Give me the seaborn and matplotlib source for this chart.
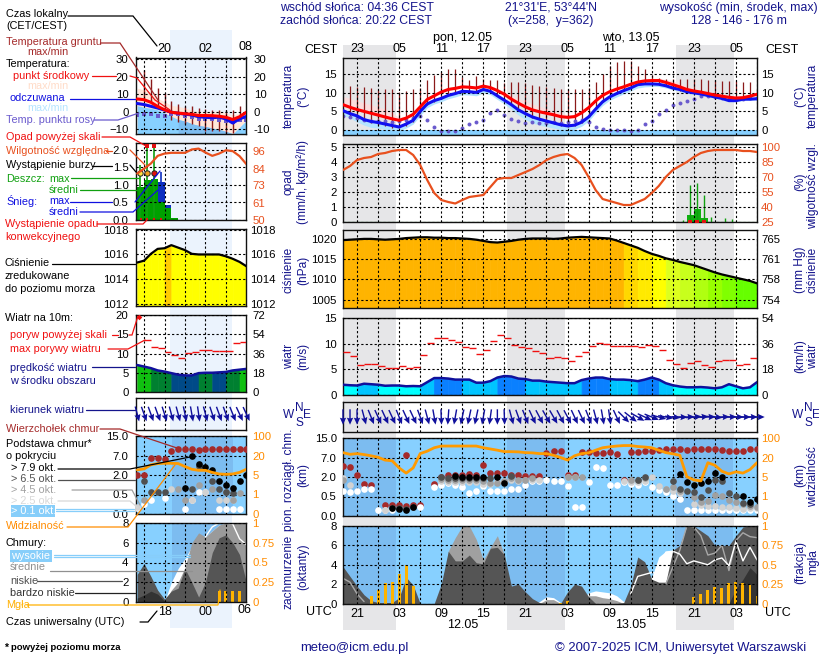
import numpy as np
import matplotlib
matplotlib.use('Agg')
import matplotlib.pyplot as plt
import seaborn as sns

W, H = 820, 660
NAVY = '#14148c'
ORANGE = '#ff8c00'
HUMID = '#e8501e'
SKY = '#87d0ff'
SKY_NIGHT = '#7cbcf0'

# ---------- main meteogram: one value per hour, hour 0 = 21 CEST ----------
hours = np.arange(60)
temp_mid = [6.8, 6.1, 5.5, 5.0, 4.5, 4.0, 3.5, 3.0, 2.6, 3.2, 4.2, 6.2, 8.2, 9.2, 10.2, 10.9, 11.2, 11.6, 11.5, 11.3,
            11.8, 11.4, 10.6, 9.6, 8.3, 7.2, 6.2, 5.4, 4.9, 4.5, 4.1, 3.6, 3.4, 3.6, 4.6, 6.0, 7.8, 9.3, 10.3, 11.0,
            11.6, 12.3, 12.9, 13.2, 13.3, 13.3, 12.8, 12.2, 11.6, 10.9, 10.5, 10.2, 9.8, 9.4, 9.1, 8.8, 8.6, 8.7, 9.1, 9.6]
temp_max = [9.0, 8.5, 7.9, 7.3, 6.8, 6.2, 5.6, 4.6, 3.4, 3.7, 4.7, 6.8, 8.7, 9.7, 10.7, 11.4, 11.7, 12.1, 12.0, 11.8,
            12.3, 11.9, 11.2, 10.3, 9.3, 8.5, 7.8, 7.0, 6.4, 5.8, 5.2, 4.6, 4.1, 4.2, 5.1, 6.5, 8.3, 9.8, 10.8, 11.5,
            12.1, 12.8, 13.4, 13.7, 13.9, 13.9, 13.6, 13.2, 12.5, 11.8, 11.2, 10.7, 10.2, 9.8, 9.4, 9.1, 8.9, 9.0, 9.4, 9.9]
temp_feel = [5.2, 4.4, 3.8, 2.8, 2.3, 2.0, 1.6, 1.2, 0.8, 1.6, 2.6, 5.0, 7.0, 7.9, 8.5, 9.3, 9.8, 10.4, 10.3, 10.1,
             10.9, 10.4, 9.2, 8.0, 6.8, 5.4, 4.4, 3.5, 2.9, 2.4, 1.9, 1.4, 1.1, 1.3, 2.1, 3.5, 5.6, 7.6, 8.9, 9.8,
             10.6, 11.3, 12.2, 12.4, 12.4, 12.3, 11.9, 11.3, 10.9, 10.3, 10.0, 9.7, 9.3, 8.9, 8.5, 7.9, 7.9, 8.3, 8.3, 8.4]
temp_feel_min = [4.0, 3.2, 2.2, 1.3, 0.7, 0.5, 0.2, -0.1, -0.2, 0.5, 1.6, 3.8, 6.0, 7.0, 7.6, 8.4, 8.9, 9.5, 9.4, 9.2,
                 10.0, 9.5, 8.2, 7.0, 5.6, 4.0, 2.8, 1.9, 1.3, 0.9, 0.5, 0.1, -0.1, 0.2, 1.0, 2.4, 4.6, 6.6, 8.0, 8.9,
                 9.7, 10.5, 11.3, 11.6, 11.7, 11.7, 11.3, 10.8, 10.4, 9.9, 9.6, 9.3, 8.9, 8.5, 8.1, 7.6, 7.6, 7.9, 8.0, 8.1]
dew = [3.7, 3.6, 3.2, 2.8, 2.5, 2.4, 2.4, 2.2, 2.3, 2.6, 3.3, 3.7, 2.8, 0.8, -0.2, -0.2, -0.2, 0.6, 1.6, 2.2,
       2.7, 4.7, 5.5, 3.9, 2.9, 2.4, 2.0, 2.1, 2.0, 1.9, 2.1, 2.0, 2.2, 2.3, 2.6, 2.1, 0.8, 0.2, 0.0, -0.1,
       -0.1, -0.2, 0.0, 1.7, 2.5, 4.4, 5.3, 6.6, 7.3, 7.9, 8.4, 9.1, 9.2, 8.9, 8.6, 8.4, 8.4, 8.4, 8.5, 8.6]
ground_max = [9.0, 11.9, 11.6, 11.6, 11.4, 10.8, 11.0, 10.9, 10.3, 10.5, 10.9, 11.2, 13.5, 14.8, 15.7, 16.3, 16.3, 14.3, 13.5, 14.4,
              13.7, 13.5, 13.5, 12.6, 12.8, 12.8, 12.6, 12.2, 11.8, 11.5, 11.2, 11.0, 10.9, 10.9, 10.9, 11.2, 13.0, 15.0, 17.1, 18.2,
              18.6, 18.6, 17.2, 16.4, 14.8, 14.1, 13.8, 13.6, 13.8, 13.8, 13.8, 13.7, 13.5, 13.5, 13.3, 13.3, 13.3, 13.0, 13.0, 11.0]
ground_min = [4.0, 3.8, 3.0, 2.4, 1.8, 1.4, 1.0, 0.6, 0.4, 1.0, 2.2, 4.6, 6.6, 7.6, 8.4, 9.4, 10.0, 10.4, 10.2, 10.2,
              10.8, 10.2, 9.2, 8.0, 6.8, 5.4, 4.2, 3.2, 2.6, 2.2, 1.6, 1.2, 0.9, 1.2, 2.0, 3.4, 5.6, 7.6, 8.8, 9.8,
              10.6, 11.4, 12.2, 12.6, 12.6, 12.2, 11.9, 11.0, 10.6, 10.0, 9.8, 9.5, 9.2, 8.8, 8.4, 8.0, 7.9, 8.2, 8.4, 8.6]

humidity = [77, 81, 87, 89, 90, 93, 94, 96, 97, 97, 92, 82, 67, 54, 47, 45, 43.5, 47, 50, 51,
            52, 60, 68, 69, 69, 72, 75, 78, 82, 87, 90, 92, 93, 89, 82, 70, 57, 48, 46, 44,
            42, 42, 45, 48, 54, 61, 70, 77, 81, 85, 90, 94, 96, 97, 97, 97, 97, 96, 96, 95]
rain_hours = [49.5, 50.5, 51.5]
rain_mean = [0.45, 0.85, 0.25]
rain_max_hours = [48.5, 49.5, 50.5, 51.5, 52.5, 54.5, 55.5]
rain_max = [0.15, 2.5, 2.6, 1.8, 0.35, 0.25, 0.2]
conv_hours = [49.5, 50.5, 51.5]

pressure = [1019.7, 1019.8, 1019.9, 1020.0, 1020.0, 1019.9, 1019.8, 1019.9, 1020.0, 1020.2, 1020.3, 1020.4, 1020.4, 1020.3, 1020.3, 1020.2, 1020.2, 1020.1, 1020.0, 1019.8,
            1019.5, 1019.2, 1019.1, 1019.3, 1019.5, 1019.8, 1020.0, 1020.1, 1020.1, 1020.1, 1020.0, 1020.1, 1020.3, 1020.4, 1020.5, 1020.4, 1020.3, 1020.2, 1020.1, 1019.6,
            1019.0, 1018.4, 1017.8, 1017.0, 1016.3, 1015.8, 1015.2, 1014.8, 1014.3, 1013.9, 1013.5, 1012.9, 1012.3, 1011.7, 1011.2, 1010.8, 1010.4, 1010.0, 1009.6, 1009.0]
pressure_colors = ['#ffb400'] * 40 + ['#ffd800'] * 2 + ['#ffea00'] * 2 + ['#ffff00'] * 2 + ['#ddff1e'] * 2 + ['#c8ff1c'] * 2 + \
                  ['#b0ff10'] * 2 + ['#98ff00'] * 2 + ['#80ff00'] * 2 + ['#66ff00'] * 3

wind = [2.0, 1.9, 1.85, 2.2, 2.1, 2.0, 1.8, 1.85, 1.85, 1.7, 1.75, 1.7, 2.5, 3.3, 3.3, 3.2, 3.0, 3.0, 3.0, 2.4,
        2.4, 2.7, 3.4, 3.7, 3.6, 3.2, 3.1, 2.8, 2.8, 2.6, 2.5, 2.4, 2.3, 2.3, 2.9, 3.2, 3.4, 3.4, 3.1, 3.0,
        3.0, 2.9, 2.7, 3.0, 3.4, 3.0, 2.3, 1.9, 1.65, 1.5, 1.5, 1.55, 1.45, 1.3, 1.5, 2.1, 1.7, 1.3, 1.5, 2.5]
gust = [8.4, 7.6, 5.85, 6.05, 6.05, 5.65, 5.25, 5.25, 5.6, 5.25, 5.45, 7.8, 10.2, 11.2, 11.2, 10.8, 10.4, 9.4, 9.2, 8.0,
        8.8, 10.6, 11.6, 11.2, 9.8, 9.4, 9.2, 8.6, 8.2, 7.2, 7.4, 7.2, 6.65, 7.6, 8.4, 9.6, 10.2, 10.0, 9.6, 9.6,
        9.6, 9.6, 9.4, 9.8, 9.6, 8.8, 6.85, 6.05, 5.25, 6.25, 6.65, 5.85, 5.45, 6.65, 6.85, 6.85, 5.85, 6.05, 7.2, 7.2]
CY, BL, DK = '#00ffff', '#00c4ff', '#0a80ff'
wind_colors = [CY] * 2 + [BL] * 3 + [CY] * 6 + [BL] * 2 + [DK] * 4 + [BL] * 5 + [DK] * 4 + [BL] * 8 + [DK] * 4 + [BL] * 4 + [DK] * 3 + [BL] * 2 + [CY] * 13
wind_dir = [180, 180, 180, 165, 158, 155, 155, 155, 158, 155, 155, 160, 165, 170, 178, 184, 190, 192, 192, 192,
            190, 188, 180, 178, 165, 160, 158, 155, 152, 150, 150, 152, 152, 155, 155, 158, 165, 170, 172, 155,
            135, 128, 120, 115, 112, 105, 100, 96, 92, 88, 85, 85, 88, 95, 88, 88, 90, 90, 90, 90]

# cloud tops and bases, km, by cover class
top_h = [0, 1, 2, 3, 4, 6, 7, 8, 9, 9, 10, 11, 13, 14, 15, 16, 17, 18, 19, 20, 21, 22, 23, 24, 25, 26, 27, 28, 29, 30, 31, 32, 33,
         34, 35, 36, 37, 38, 39, 40, 41, 42, 43, 44, 45, 46, 47, 48, 49, 50, 51, 52, 53, 54, 55, 56, 57, 58, 59]
top_km = [4.8, 4.45, 2.44, 1.45, 1.35, 0.27, 0.27, 0.27, 0.26, 8.1, 0.28, 0.28, 1.45, 2.0, 2.44, 2.6, 2.6, 2.8, 2.6, 5.07, 3.05, 3.05, 3.05, 2.6, 2.44, 2.3, 2.26, 2.26, 9.0, 9.5, 9.5, 2.44, 2.44,
          9.3, 9.3, 9.0, 9.0, 9.1, 8.5, 1.8, 9.1, 9.1, 9.5, 9.5, 10.0, 10.3, 10.5, 10.3, 10.0, 10.3, 10.3, 10.3, 10.3, 10.0, 9.8, 9.8, 9.5, 10.3, 10.3]
white_h = [0, 1, 2, 3, 4, 5, 6, 7, 11, 13, 14, 15, 16, 17, 18, 19, 20, 21, 22, 23, 24, 25, 26, 27, 28, 29, 30, 31, 32, 33, 34, 35, 36, 37,
           38, 39, 40, 41, 42, 43, 44, 45, 46, 47, 48, 49, 50, 51, 52, 53, 54, 55, 56, 57, 58, 59]
white_km = [0.89, 0.81, 0.89, 1.07, 1.07, 0.155, 0.155, 0.155, 0.22, 1.2, 1.4, 1.53, 1.4, 1.2, 0.76, 0.94, 1.28, 0.94, 0.89, 0.94, 1.07, 1.07, 1.4, 1.66, 1.66, 1.8, 1.66, 1.66, 1.28, 0.22, 0.22, 1.59, 4.6, 4.3,
            1.4, 1.4, 1.59, 1.46, 1.4, 1.59, 1.2, 0.97, 0.81, 0.55, 0.44, 0.155, 0.155, 0.155, 0.155, 0.155, 0.155, 0.155, 0.155, 0.155, 0.155, 0.155]
light_h = [0, 1, 6, 14, 15, 16, 17, 18, 19, 20, 21, 22, 23, 24, 25, 26, 27, 28, 32, 33, 40, 41, 42, 43, 44, 45, 46, 47, 48, 50, 51, 52, 53, 54, 55, 56, 57, 58, 59]
light_km = [1.9, 1.4, 0.16, 1.7, 1.6, 1.6, 1.6, 1.6, 1.6, 1.5, 1.5, 1.6, 1.7, 1.8, 1.7, 1.8, 1.8, 1.8, 2.0, 2.0, 1.7, 1.6, 1.6, 1.7, 1.97, 1.28, 1.1, 0.9, 0.8, 0.3, 0.28, 0.26, 0.26, 0.24, 0.22, 0.2, 0.18, 0.2, 0.2]
gray_h = [0, 7, 14, 15, 16, 17, 18, 19, 20, 21, 22, 23, 24, 25, 26, 27, 32, 33, 34, 41, 42, 43, 46, 47, 48, 50, 51, 52, 53, 54, 55, 56, 57, 58, 59]
gray_km = [1.8, 0.2, 1.85, 1.8, 1.8, 1.8, 1.8, 1.8, 1.7, 1.55, 1.55, 1.7, 1.9, 1.8, 1.8, 1.9, 2.0, 1.97, 1.97, 1.8, 1.8, 1.9, 1.1, 1.2, 0.9, 0.5, 0.35, 0.38, 0.58, 0.55, 0.4, 0.36, 0.3, 0.25, 0.22]
dark_h = [8, 9, 10, 14, 15, 16, 17, 18, 19, 20, 21, 24, 42, 43, 47, 48, 49, 50, 51, 52, 53, 54, 55, 56, 57, 58]
dark_km = [0.2, 0.18, 0.22, 2.0, 1.9, 1.95, 1.95, 1.95, 1.95, 1.9, 1.9, 2.3, 1.8, 1.97, 1.66, 1.1, 0.89, 0.84, 0.5, 0.97, 1.8, 1.66, 0.75, 0.55, 0.33, 0.3]
black_h = [7, 8, 9, 10, 16, 17, 18, 19, 20, 22, 23, 48, 49, 50, 51, 52, 53, 54, 57, 58, 59]
black_km = [0.2, 0.18, 0.16, 0.24, 2.26, 2.0, 2.0, 2.0, 2.0, 2.0, 1.55, 2.8, 1.59, 1.4, 1.53, 1.7, 3.05, 2.0, 0.52, 0.36, 0.44]
visibility = [40, 33, 36, 32, 27, 21, 18, 17.5, 12, 8, 12, 36, 46, 60, 67, 67, 67, 67, 67, 67,
              60, 55, 50, 44, 44, 43, 40, 39, 36, 36, 29, 20, 18, 27, 36, 39, 50, 60, 64, 67,
              69, 69, 65, 63, 60, 50, 40, 35, 29, 5.2, 4.4, 4.2, 16, 14, 9.4, 7.4, 9, 8, 10.7, 16]

cloud_low = [3.8, 2.8, 1.8, 0.9, 0.3, 0.1, 0.1, 0.1, 0.6, 2.7, 1.9, 0, 0, 0, 2, 5.4, 4.4, 4.4, 5, 4.2,
             4.1, 5.7, 5.8, 5, 1.8, 2, 1.2, 0.5, 0.1, 0, 0, 0, 1.2, 2, 1.8, 0.7, 0, 0, 0, 0,
             0.1, 1.8, 4.8, 4.3, 2.5, 2.2, 2.2, 5.5, 6, 8, 8, 7.5, 7, 6, 6, 6, 7, 7.9, 8, 8]
cloud_mid = [0, 0, 0, 0, 0, 0, 0, 0, 0, 0, 0, 0, 0, 0, 0, 5.4, 6.8, 8, 8, 6.6,
             4.5, 5.8, 7, 5, 0, 0, 0, 0, 0, 0.4, 0.4, 0, 0, 0, 0, 0.8, 0.8, 0.6, 0.5, 0.3,
             0, 0, 0, 0, 0, 0, 0, 0, 0, 0, 0, 0, 0, 0, 0, 0, 0, 0, 0, 0]
cloud_high = [0, 0, 0, 0, 0, 0, 0, 0, 0, 0, 0, 0, 0, 0, 0, 0, 0, 0, 0, 0,
              0, 0, 0, 0, 0, 0, 0, 0, 0.2, 0.7, 0.6, 0.1, 0, 0, 0.3, 1.1, 1.3, 1.2, 1.1, 0.8,
              0.2, 1, 2.2, 3, 2.7, 4.8, 5.4, 5.5, 5.5, 0, 0, 0, 0, 0, 0, 0, 0, 0, 0, 0]
cloud_vlow = [0, 0, 0, 0, 0, 0, 0, 0, 0, 0, 0, 0, 0, 0, 0, 0, 0, 0, 0, 0,
              0, 0, 0, 0, 0, 0, 0, 0, 0, 0, 0, 0, 0, 0, 0, 0, 0, 0, 0, 0,
              0, 0, 0, 0, 0, 0, 0, 0, 0, 0, 0, 0, 0, 0, 0, 0, 1.5, 2.5, 3.7, 3]
line_high_h = [41, 42, 44, 45, 46, 47, 48, 49, 50, 51, 52, 53, 54, 55, 56, 57, 58, 59]
line_high = [1, 2.8, 3.2, 3.1, 5.3, 5.4, 5.1, 4.1, 4.4, 4.2, 4, 4.5, 4.7, 3.9, 6.4, 4.4, 5.8, 4.5]
line_mid_early_h = [0, 1, 2, 3]
line_mid_early = [2.6, 2.2, 1, 0.2]
line_mid_h = [46, 48, 49, 50, 51, 52, 53, 54, 55, 56, 57, 58, 59]
line_mid = [2, 5.5, 8, 7.9, 7, 5, 5.2, 6, 3.4, 6.5, 7.3, 6.9, 6.8]
fog_h = [4, 5, 6, 7, 8, 9, 10, 31, 32, 50, 51, 52, 53, 54, 55, 56, 57, 58, 59]
fog = [0.1, 0.18, 0.26, 0.28, 0.38, 0.5, 0.23, 0.01, 0.03, 0.09, 0.12, 0.17, 0.21, 0.2, 0.26, 0.28, 0.26, 0.24, 0.1]

# ---------- legend meteogram: local hours 16..32 ----------
leg_hours = np.arange(16, 33)
leg_mid = [7.2, 6.8, 5.3, 2.9, 1.0, -0.4, -0.9, -1.3, -1.6, -2.3, -2.3, -2.4, -2.7, -3.3, -4.6, -3.0, -0.4]
leg_max = [13.4, 12.5, 10.5, 7.5, 5.7, 3.5, 3, 2, 0.8, 0, -0.5, 0, 0.5, -1, -1.8, -1, 0.5]
leg_feel = [4.6, 4, 3, 2, 0.8, -0.4, -1, -1.5, -2, -3, -3.3, -3.6, -3.2, -4.3, -6.6, -4.2, -2.8]
leg_feel_top = [3.4, 2.5, 1.9, 1, -0.8, -2.7, -4.6, -5.5, -7, -8, -8.6, -9.5, -10.3, -11.4, -12.8, -9, -5]
leg_dew = [-1.9, -1.3, -1.5, -2.5, -2.7, -1.7, -1.3, -2.7, -3.2, -4.2, -4.2, -4.2, -5.1, -5.7, -6.1, -4.6, -4.6]
leg_ground_h = np.arange(17, 32)
leg_ground_max = [24, 18.7, 13.5, 10.5, 6.3, 4.4, 3.4, 3, 1.9, 1.5, 1, 1, 0.6, 0.6, 2.9]
leg_ground_min = [8, 5.3, 3.4, 0.6, -5.1, -6.1, -7, -7, -8.4, -11, -11, -11, -12.9, -12.2, -5.1]
leg_humidity = [80.8, 84, 87.4, 92.5, 94, 94.5, 94.5, 94.5, 96.7, 97.3, 94.7, 92.5, 94, 96.2, 95.6, 92.3, 87]
leg_rain_h = [16.5, 17.5, 18.5, 19.5, 20.5, 21.5]
leg_rain = [0.95, 1.15, 1.18, 0.52, 0.34, 0.07]
leg_snow_h = [19.5, 20.5]
leg_snow = [0.56, 0.09]
leg_rainmax_h = [16.45, 17.45, 18.45]
leg_rainmax = [1.57, 2.1, 2.1]
leg_snowmax_h = [19.45]
leg_snowmax = [1.38]
leg_storm_colors = ['#ffe040', '#f0a020', '#e01010']
leg_pressure = [1015.35, 1015.5, 1016.05, 1016.45, 1016.5, 1016.75, 1016.55, 1016.35, 1016.05, 1016, 1016, 1016, 1016, 1015.85, 1015.65, 1015.4, 1015.05]
leg_wind = [7, 6.6, 6.2, 5.6, 5.3, 4.9, 4.5, 4.3, 4.3, 4.9, 5.0, 5.0, 5.1, 5.2, 5.6, 5.8, 6.0]
leg_gust = [np.nan, 13.4, 11.6, 11.4, 10.5, 9.7, 8.8, 10.1, 10.5, 10.8, 10.8, 10.6, 10.6, 10.7, 12.8, 13, 13]
leg_wind_colors = ['#10c010'] * 2 + ['#008030'] * 3 + ['#004a88'] * 4 + ['#008030'] * 2 + ['#004a88'] * 2 + ['#008030'] * 2 + ['#10c010'] * 1
leg_dir = [165, 160, 160, 160, 162, 165, 165, 168, 170, 172, 165, 162, 160, 160, 158, 155, 155]
leg_tops = [2, 2, 6.4, 6.4, 6.0, 8.9, 9.8, 9.8, 9.8, 9.1, 9.8, 9.8, 9.8, 9.8, 9.8, 9.8, 9.8]
leg_white_h = [16, 17, 18, 20, 23, 24, 25, 26, 28, 29, 30, 31]
leg_white = [0.16, 0.25, 0.36, 0.41, 0.13, 0.36, 0.68, 0.68, 0.13, 0.13, 0.13, 0.13]
leg_light_h = [16, 21, 26, 24, 28, 29, 30]
leg_light = [0.19, 0.93, 0.68, 0.36, 0.36, 0.36, 0.36]
leg_gray_h = [17, 22, 23, 25, 27, 29, 30, 31]
leg_gray = [0.36, 0.93, 0.36, 1.24, 0.93, 0.68, 0.36, 0.6]
leg_dark_h = [17, 18, 19, 20, 24, 25, 27, 28, 29, 30]
leg_dark = [1.54, 0.68, 0.68, 0.68, 0.93, 4.2, 1.54, 0.93, 0.68, 0.6]
leg_black_h = [23, 24, 25, 26, 27, 28, 29, 30, 31, 32]
leg_black = [1.0, 7, 4.8, 4, 3.3, 1.55, 1.24, 1.0, 1.54, 2]
leg_vis = [8.9, 9.7, 12.8, 13.8, 14, 14, 13.8, 11.5, 9.4, 8.6, 8.6, 7, 5.8, 5.5, 5.8, 7, 9.4]
leg_low = [2.8, 3.9, 2.6, 1.2, 0.3, 1.1, 1.4, 3.4, 2, 0.5, 2, 5, 6.5, 6.8, 6, 4.8, 2]
leg_vlow = [0.4, 0.7, 1.1, 0.8, 0.1, 0, 0, 0, 0, 0, 0, 0, 0, 0, 0, 0, 0]
leg_mid_cl = [0, 0, 0, 0, 0, 1.2, 2, 3.5, 6, 7, 6.6, 7.2, 7.8, 8, 8, 8, 8]
leg_high = [0, 0, 0, 0, 0, 2, 3.4, 4.4, 5.6, 5.8, 6.6, 7.2, 7.8, 8, 8, 8, 8]
leg_line_high_h = [26, 27, 28, 29, 30, 31, 32]
leg_line_high = [6.6, 7.6, 8, 8, 7.9, 6.4, 5.8]
leg_fog_h = [28, 29, 30, 31]
leg_fog = [0.14, 0.14, 0.14, 0.14]

# axis labels
top_labels = ['23', '', '05', '', '11', '', '17', '', '23', '', '05', '', '11', '', '17', '', '23', '', '05', '']
utc_labels = ['21', '', '03', '', '09', '', '15', '', '21', '', '03', '', '09', '', '15', '', '21', '', '03', '']
leg_top_labels = ['', '20', '', '02', '']
leg_utc_labels = ['', '18', '', '00', '']
cloud_km_ticks = [0, 0.5, 2, 7, 15]
vis_ticks = [0, 1, 5, 20, 100]

sns.set_theme(style='white')
plt.rcParams['font.family'] = ['Liberation Sans', 'DejaVu Sans']
plt.rcParams['font.size'] = 8.2
plt.rcParams['axes.linewidth'] = 0.8

fig = plt.figure(figsize=(W / 100, H / 100), dpi=100, facecolor='white')

# page in pixels, used for the night bands, captions and leader lines
back = fig.add_axes([0, 0, 1, 1], zorder=0)
back.set_xlim(0, W)
back.set_ylim(H, 0)
back.axis('off')
page = fig.add_axes([0, 0, 1, 1], zorder=20)
page.set_xlim(0, W)
page.set_ylim(H, 0)
page.axis('off')
page.patch.set_alpha(0)

XH = (343, 757)
XL = (135.5, 245.5)
HOUR_LIM = (0, 59)
LEG_LIM = (15.75, 31.87)
MAIN_GRID = np.arange(2, 60, 3)
LEG_GRID = np.arange(17, 32, 3)
NIGHTS = [(343, 396), (507, 565), (676, 734)]
LEG_NIGHT = (21.1, 30.1)

for a, b in NIGHTS:
    back.fill_between([a, b], 45, 630, color='#e6e6e8', lw=0)
back.fill_between([170, 232], 30, 628, color='#ebf3fd', lw=0)


def panel(x, y0, y1, xlim, grid, ylim, yticks, scale=None):
    ax = fig.add_axes([x[0] / W, 1 - y1 / H, (x[1] - x[0]) / W, (y1 - y0) / H], zorder=5)
    ax.patch.set_alpha(0)
    if scale is not None:
        ax.set_yscale('function', functions=scale)
    ax.set_xlim(*xlim)
    ax.set_ylim(*ylim)
    ax.set_xticks(grid)
    ax.set_yticks(yticks)
    ax.set_xticklabels([])
    ax.minorticks_off()
    ax.tick_params(axis='both', length=0, pad=5 if x is XL else 4.5, labelsize=8.2, colors='black')
    ax.grid(True, color='black', linestyle=(0, (2, 2)), linewidth=0.8)
    ax.set_axisbelow(False)
    for s in ax.spines.values():
        s.set_color('#111111')
        s.set_linewidth(1.0)
    return ax


def right_axis(ax, ticks, labels, color, ylim=None, scale=None, pad=3):
    tw = ax.twinx()
    tw.patch.set_alpha(0)
    if scale is not None:
        tw.set_yscale('function', functions=scale)
    tw.set_ylim(*(ylim if ylim else ax.get_ylim()))
    tw.set_yticks(ticks)
    tw.set_yticklabels(labels)
    tw.minorticks_off()
    tw.tick_params(axis='y', length=0, pad=pad, labelsize=8.2, labelcolor=color)
    tw.grid(False)
    for s in tw.spines.values():
        s.set_visible(False)
    return tw


def line(ax, x, y, color, lw, z=4):
    sns.lineplot(x=list(x), y=list(y), ax=ax, color=color, linewidth=lw, zorder=z, legend=False, errorbar=None)
    ax.set_xlabel('')
    ax.set_ylabel('')


def dots(ax, x, y, color, s=23, marker='o', z=4):
    sns.scatterplot(x=list(x), y=list(y), ax=ax, color=color, s=s, marker=marker, linewidth=0, zorder=z, legend=False, clip_on=True)
    ax.set_xlabel('')
    ax.set_ylabel('')


def stepped_fill(ax, x, y, colors, base=0):
    # a thin edge of the same colour closes the seams between the hourly pieces
    for i in range(len(x) - 1):
        ax.fill_between(x[i:i + 2], base, y[i:i + 2], facecolor=colors[i], edgecolor=colors[i], linewidth=0.5, zorder=1)


def stems(ax, x, lo, hi, color, lw=1.0, z=3):
    ax.vlines(x, lo, hi, color=color, linewidth=lw, zorder=z)


def in_night(x, lim):
    return (np.asarray(x) >= lim[0]) & (np.asarray(x) <= lim[1])


def km_scale(ticks):
    pos = np.arange(len(ticks))
    fwd = lambda v: np.interp(v, ticks, pos)
    inv = lambda v: np.interp(v, pos, ticks)
    return fwd, inv


km_fn = km_scale(cloud_km_ticks)
vis_fn = km_scale(vis_ticks)


def set_grid_labels(ax, labels, side):
    ax.set_xticklabels(labels)
    if side == 'top':
        ax.tick_params(axis='x', labeltop=True, labelbottom=False, pad=2, labelsize=9)
    else:
        ax.tick_params(axis='x', pad=3, labelsize=9)


def arrows(ax, x, degrees):
    rad = np.radians(degrees)
    ax.quiver(x, np.zeros(len(x)), np.sin(rad), np.cos(rad), color='#10109c', pivot='mid', angles='uv',
              scale_units='dots', scale=0.065, width=1.4, units='dots', headwidth=4.5, headlength=5, headaxislength=4.5,
              zorder=4, clip_on=False)


# ---- temperature (main)
ax = panel(XH, 57.5, 135, HOUR_LIM, MAIN_GRID, (-1.35, 19.5), [0, 5, 10, 15])
ax.axhspan(-1.35, 0, color=SKY, lw=0, zorder=1)
ax.fill_between(hours, temp_mid, temp_max, color='#ffdcdc', lw=0, zorder=1.5, alpha=0.85)
ax.fill_between(hours, temp_feel_min, temp_feel, color='#b4e4ff', lw=0, zorder=1.6)
stems(ax, hours[1:], ground_min[1:], ground_max[1:], '#8b1a1a', lw=0.9, z=2)
dots(ax, hours, dew, '#6a5acd', s=8, z=2.5)
line(ax, hours, temp_feel, '#1010f0', 2.2, z=4)
line(ax, hours, temp_mid, '#ff0000', 2.2, z=5)
ax.set_xlim(*HOUR_LIM)
ax.set_ylim(-1.35, 19.5)
set_grid_labels(ax, top_labels, 'top')
right_axis(ax, [0, 5, 10, 15], ['0', '5', '10', '15'], 'black')

# ---- precipitation + humidity (main)
ax = panel(XH, 144, 222, HOUR_LIM, MAIN_GRID, (0, 5.2), [0, 1, 2, 3, 4, 5])
ax.bar(rain_hours, rain_mean, width=1, color='#10b010', lw=0, zorder=2)
stems(ax, rain_max_hours, 0, rain_max, '#10a010', lw=1.0, z=2)
ax.axhline(0.03, color='#10a010', lw=0.8, zorder=2)
dots(ax, conv_hours, [0.03] * 3, '#e01010', s=10, marker='s', z=4)
tw = right_axis(ax, [25, 40, 55, 70, 85, 100], ['25', '40', '55', '70', '85', '100'], HUMID, ylim=(25, 103))
line(tw, hours, humidity, HUMID, 1.6)
tw.set_xlim(*HOUR_LIM)
tw.set_ylim(25, 103)

# ---- pressure (main)
ax = panel(XH, 230, 308, HOUR_LIM, MAIN_GRID, (1002.9, 1022.2), [1005, 1010, 1015, 1020])
stepped_fill(ax, hours, pressure, pressure_colors, base=1002.9)
line(ax, hours, pressure, 'black', 1.6)
ax.set_xlim(*HOUR_LIM)
ax.set_ylim(1002.9, 1022.2)
right_axis(ax, [1005, 1010, 1015, 1020], ['754', '758', '761', '765'], 'black')

# ---- wind (main)
ax = panel(XH, 318, 395, HOUR_LIM, MAIN_GRID, (0, 15), [0, 5, 10, 15])
stepped_fill(ax, hours, wind, wind_colors)
line(ax, hours, wind, '#10109c', 1.8)
ax.hlines(gust, hours, hours + 1, color='#f01010', linewidth=1.0, zorder=4)
ax.set_xlim(*HOUR_LIM)
ax.set_ylim(0, 15)
right_axis(ax, [0, 5, 10, 15], ['0', '18', '36', '54'], 'black')

# ---- wind direction (main)
ax = panel(XH, 402, 432, HOUR_LIM, MAIN_GRID, (-1, 1), [])
arrows(ax, hours, wind_dir)
ax.set_xlim(*HOUR_LIM)
ax.set_ylim(-1, 1)

# ---- cloud tops and bases (main)
ax = panel(XH, 438, 516, HOUR_LIM, MAIN_GRID, (0, 15), cloud_km_ticks, scale=km_fn)
ax.axhspan(0, 15, color=SKY, lw=0, zorder=0.5)
for a, b in [(-0.5, 7.6), (23.37, 31.6), (47.37, 55.6)]:
    ax.axvspan(a, b, color=SKY_NIGHT, lw=0, zorder=0.6)
ax.set_yticklabels(['0.0', '0.5', '2.0', '7.0', '15.0'])
dots(ax, white_h, white_km, 'white')
dots(ax, light_h, light_km, '#d2d2d2')
dots(ax, gray_h, gray_km, '#a0a0a0')
dots(ax, dark_h, dark_km, '#505050')
dots(ax, black_h, black_km, 'black')
dots(ax, top_h, top_km, '#a52a2a', z=3)
ax.set_xlim(*HOUR_LIM)
ax.set_ylim(0, 15)
tw = right_axis(ax, vis_ticks, [str(v) for v in vis_ticks], ORANGE, ylim=(0, 100), scale=vis_fn)
line(tw, hours, visibility, '#ff9a00', 2.0)
tw.set_xlim(*HOUR_LIM)
tw.set_ylim(0, 100)

# ---- cloud cover (main)
ax = panel(XH, 526, 603.5, HOUR_LIM, MAIN_GRID, (0, 8), [0, 2, 4, 6, 8])
ax.axhspan(0, 8, color=SKY, lw=0, zorder=0.5)
for a, b in [(-0.5, 7.6), (23.37, 31.6), (47.37, 55.6)]:
    ax.axvspan(a, b, color=SKY_NIGHT, lw=0, zorder=0.6)
ax.fill_between(hours, 0, cloud_high, color='white', lw=0, zorder=1)
ax.fill_between(hours, 0, cloud_mid, color='#a0a0a0', lw=0, zorder=1.1)
ax.fill_between(hours, 0, cloud_low, color='#555555', lw=0, zorder=1.2)
ax.fill_between(hours, 0, cloud_vlow, color='#333333', lw=0, zorder=1.3)
line(ax, line_mid_early_h, line_mid_early, '#a8a8a8', 1.0, z=2)
line(ax, line_mid_h, line_mid, '#a8a8a8', 1.0, z=2)
line(ax, line_high_h, line_high, 'white', 1.0, z=2.1)
ax.bar(fog_h, np.array(fog) * 8, width=0.42, color='#ffb400', lw=0, zorder=1.8)
ax.set_xlim(*HOUR_LIM)
ax.set_ylim(0, 8)
set_grid_labels(ax, utc_labels, 'bottom')
right_axis(ax, [0, 2, 4, 6, 8], ['0', '0.25', '0.5', '0.75', '1'], ORANGE)

# ---- legend panels on the left
ax = panel(XL, 57.5, 134, LEG_LIM, LEG_GRID, (-12.9, 31), [-10, 0, 10, 20, 30])
ax.fill_between(leg_hours, leg_feel_top, leg_max, color='#ffe6da', lw=0, zorder=1)
ax.fill_between(leg_hours, -12.9, leg_feel_top, color=SKY, lw=0, zorder=1.2)
night = in_night(leg_hours, LEG_NIGHT)
ax.fill_between(leg_hours, -12.9, leg_feel_top, where=night, color=SKY_NIGHT, lw=0, zorder=1.3)
stems(ax, leg_ground_h, leg_ground_min, leg_ground_max, '#8b1a1a', lw=1.0, z=2)
dots(ax, leg_hours, leg_dew, '#6a5acd', s=10, marker='s', z=2.5)
line(ax, leg_hours, leg_feel, '#1010f0', 2.2)
line(ax, leg_hours, leg_mid, '#ff0000', 2.2, z=5)
ax.set_xlim(*LEG_LIM)
ax.set_ylim(-12.9, 31)
set_grid_labels(ax, leg_top_labels, 'top')
right_axis(ax, [-10, 0, 10, 20, 30], ['-10', '0', '10', '20', '30'], 'black', pad=6)

ax = panel(XL, 143, 220, LEG_LIM, LEG_GRID, (0, 2.2), [0, 0.5, 1, 1.5, 2])
ax.set_yticklabels(['0.0', '0.5', '1.0', '1.5', '2.0'])
ax.bar(leg_rain_h, leg_rain, width=1, color='#00a000', lw=0, zorder=2)
ax.bar(leg_snow_h, leg_snow, bottom=[0.52, 0.34], width=1, color='#1030c0', lw=0, zorder=2)
stems(ax, leg_rainmax_h, 0, leg_rainmax, '#10a010', lw=1.2, z=2.2)
stems(ax, leg_snowmax_h, 1.0, leg_snowmax, '#1030c0', lw=1.2, z=2.2)
for hh, cc in zip(leg_rainmax_h, leg_storm_colors):
    ax.scatter([hh], [1.33], s=15, color=cc, edgecolor='#222222', linewidth=0.7, zorder=6)
dots(ax, leg_rainmax_h[1:], [2.1, 2.1], '#e01010', s=9, marker='s', z=6)
dots(ax, [16.5, 17.5, 18.5, 19.5], [0.02] * 4, '#e01010', s=4, marker='s', z=6)
tw = right_axis(ax, [50, 61, 73, 84, 96], ['50', '61', '73', '84', '96'], HUMID, ylim=(50, 101), pad=5)
line(tw, leg_hours, leg_humidity, HUMID, 1.6)
tw.set_xlim(*LEG_LIM)
tw.set_ylim(50, 101)

ax = panel(XL, 229, 306, LEG_LIM, LEG_GRID, (1011.85, 1018.05), [1012, 1014, 1016, 1018])
stepped_fill(ax, leg_hours, leg_pressure, ['#ffff00'] * 4 + ['#ffcc00'] + ['#ffff00'] * 11, base=1011.85)
line(ax, leg_hours, leg_pressure, 'black', 1.6)
ax.set_xlim(*LEG_LIM)
ax.set_ylim(1011.85, 1018.05)
right_axis(ax, [1012, 1014, 1016, 1018], ['1012', '1014', '1016', '1018'], 'black')

ax = panel(XL, 315, 392, LEG_LIM, LEG_GRID, (0, 20), [0, 5, 10, 15, 20])
stepped_fill(ax, leg_hours, leg_wind, leg_wind_colors)
line(ax, leg_hours, leg_wind, '#10109c', 1.8)
ax.hlines(leg_gust, leg_hours, leg_hours + 1, color='#f01010', linewidth=1.0, zorder=4)
dots(ax, [16.2], [19.6], '#f01010', s=8, marker='D', z=6)
ax.set_xlim(*LEG_LIM)
ax.set_ylim(0, 20)
right_axis(ax, [0, 5, 10, 15, 20], ['0', '18', '36', '54', '72'], 'black', pad=5)

ax = panel(XL, 398, 430, LEG_LIM, LEG_GRID, (-1, 1), [])
arrows(ax, leg_hours, leg_dir)
ax.set_xlim(*LEG_LIM)
ax.set_ylim(-1, 1)

ax = panel(XL, 436, 514, LEG_LIM, LEG_GRID, (0, 15), cloud_km_ticks, scale=km_fn)
ax.set_yticklabels(['0.0', '0.5', '2.0', '7.0', '15.0'])
ax.axhspan(0, 15, color=SKY, lw=0, zorder=0.5)
ax.axvspan(*LEG_NIGHT, color=SKY_NIGHT, lw=0, zorder=0.6)
dots(ax, leg_white_h, leg_white, 'white')
dots(ax, leg_light_h, leg_light, '#d2d2d2')
dots(ax, leg_gray_h, leg_gray, '#a0a0a0')
dots(ax, leg_dark_h, leg_dark, '#505050')
dots(ax, leg_black_h, leg_black, 'black')
dots(ax, leg_hours, leg_tops, '#a52a2a', z=3)
ax.set_xlim(*LEG_LIM)
ax.set_ylim(0, 15)
tw = right_axis(ax, vis_ticks, [str(v) for v in vis_ticks], ORANGE, ylim=(0, 100), scale=vis_fn, pad=5)
line(tw, leg_hours, leg_vis, '#ff9a00', 2.0)
tw.set_xlim(*LEG_LIM)
tw.set_ylim(0, 100)

ax = panel(XL, 523, 602, LEG_LIM, LEG_GRID, (0, 8), [0, 2, 4, 6, 8])
ax.axhspan(0, 8, color=SKY, lw=0, zorder=0.5)
ax.axvspan(*LEG_NIGHT, color=SKY_NIGHT, lw=0, zorder=0.6)
ax.fill_between(leg_hours, 0, leg_high, color='white', lw=0, zorder=1)
ax.fill_between(leg_hours, 0, leg_mid_cl, color='#9a9a9a', lw=0, zorder=1.1)
ax.fill_between(leg_hours, 0, leg_low, color='#555555', lw=0, zorder=1.2)
ax.fill_between(leg_hours, 0, leg_vlow, color='#333333', lw=0, zorder=1.3)
line(ax, leg_line_high_h, leg_line_high, 'white', 1.0, z=2)
ax.bar(leg_fog_h, np.array(leg_fog) * 8, width=0.42, color='#ffb400', lw=0, zorder=1.8)
ax.set_xlim(*LEG_LIM)
ax.set_ylim(0, 8)
set_grid_labels(ax, leg_utc_labels, 'bottom')
right_axis(ax, [0, 2, 4, 6, 8], ['0', '0.25', '0.5', '0.75', '1'], ORANGE, pad=5)


# ---- captions, page coordinates in pixels
def txt(x, y, s, color='black', ha='left', size=7.8, **kw):
    page.text(x, y, s, color=color, ha=ha, va='center', fontsize=size, **kw)


def leader(xs, ys, color, lw=0.9):
    page.plot(xs, ys, color=color, linewidth=lw, solid_joinstyle='miter')


BROWN, RED, BLUE, GREEN = '#a52a2a', '#f01010', '#1010e0', '#10a010'
txt(245, 47, '08', ha='center', size=9)
txt(245, 610, '06', ha='center', size=9)
txt(6, 14, 'Czas lokalny')
txt(6, 26, '(CET/CEST)')
leader([68, 133, 157], [16, 16, 46], 'black')
txt(6, 42, 'Temperatura gruntu', BROWN)
txt(27, 52, 'max/min', BROWN)
leader([101, 120, 158], [43, 43, 100], BROWN)
txt(6, 64, 'Temperatura:')
txt(13, 76, 'punkt środkowy', RED)
leader([92, 116], [76, 76], RED)
leader([130, 137, 155, 170], [76, 78, 100, 110], RED)
txt(27, 86, 'max/min', '#ffdcc8')
txt(10, 98, 'odczuwana', BLUE)
leader([70, 135], [99, 99], BLUE)
txt(27, 108, 'max/min', '#b4e4ff')
txt(6, 120, 'Temp. punktu rosy', '#6a5acd')
leader([94, 118, 139], [120, 120, 113], '#6a5acd')
txt(6, 137, 'Opad powyżej skali', RED)
leader([102, 130, 146], [137, 137, 146], RED)
txt(6, 151, 'Wilgotność względna', HUMID)
leader([106, 112], [151, 151], HUMID)
leader([130, 145], [150, 165], HUMID)
txt(6, 165, 'Wystąpienie burzy')
leader([92, 112], [166, 166], 'black')
leader([130, 136], [165, 172], 'black')
txt(6, 179, 'Deszcz:', GREEN)
txt(49, 179, 'max', GREEN)
leader([71, 139], [178, 178], GREEN)
txt(49, 190, 'średni', GREEN)
leader([80, 139], [190, 190], GREEN)
txt(6, 201, 'Śnieg:', BLUE)
txt(49, 201, 'max', BLUE)
leader([70, 112], [202, 202], BLUE)
leader([135, 160], [202, 171], BLUE)
txt(49, 212, 'średni', BLUE)
leader([80, 133, 158], [212, 212, 190], BLUE)
txt(5, 224, 'Wystąpienie opadu', RED)
leader([97, 143, 147], [224, 224, 220], RED)
txt(5, 237, 'konwekcyjnego', RED)
txt(5, 263, 'Ciśnienie')
leader([52, 135], [264, 264], 'black')
txt(5, 276, 'zredukowane')
txt(5, 289, 'do poziomu morza')
txt(5, 318, 'Wiatr na 10m:')
txt(10, 335, 'poryw powyżej skali', RED)
leader([112, 118], [335, 335], RED)
leader([129, 132, 138], [335, 335, 316], RED)
txt(10, 349, 'max porywy wiatru', RED)
leader([108, 128, 145], [349, 349, 340], RED)
txt(10, 368, 'prędkość wiatru', NAVY)
leader([92, 135], [367, 367], NAVY)
txt(10, 381, 'w środku obszaru', NAVY)
txt(10, 410, 'kierunek wiatru', NAVY)
leader([86, 135], [410, 410], NAVY)
txt(6, 429, 'Wierzchołek chmur', BROWN)
leader([100, 120, 180], [429, 429, 449], BROWN)
txt(6, 444, 'Podstawa chmur*')
txt(6, 456, 'o pokryciu')
txt(11, 468, '> 7.9 okt.')
leader([58, 130, 190], [469, 469, 457], 'black')
txt(11, 479, '> 6.5 okt.', '#505050')
leader([58, 135], [480, 480], '#505050')
txt(11, 490, '> 4.5 okt.', '#a0a0a0')
leader([72, 132, 140], [490, 490, 505], '#a0a0a0')
txt(11, 501, '> 2.5 okt.', '#d8d8d8')
leader([58, 130, 138], [501, 501, 508], '#d8d8d8')
page.fill_between([11, 55], 505, 517, color='#87cefa', lw=0)
txt(11, 511, '> 0.1 okt.', 'white')
leader([56, 134], [509, 509], '#87cefa')
leader([56, 134], [511, 511], '#87cefa')
txt(6, 526, 'Widzialność', ORANGE)
leader([67, 128, 175], [527, 527, 465], ORANGE)
txt(6, 543, 'Chmury:')
page.fill_between([10, 52], 550, 562, color='#87cefa', lw=0)
txt(11, 556, 'wysokie', 'white')
leader([54, 190], [555, 555], '#87cefa')
leader([54, 190], [557, 557], '#87cefa')
txt(10, 567, 'średnie', '#909090')
leader([50, 192], [571, 571], '#909090')
txt(10, 581, 'niskie', '#505050')
leader([37, 122], [581, 581], '#505050')
txt(10, 593, 'bardzo niskie', '#333333')
leader([75, 135], [593, 593], '#222222')
txt(6, 605, 'Mgła', '#ffb000')
leader([27, 218, 220], [605, 605, 590], '#ffb000')
txt(6, 622, 'Czas uniwersalny (UTC)')
leader([140, 148, 157], [622, 622, 611], 'black')
txt(5, 648, '*', size=7.4, fontweight='bold')
txt(11, 648, 'powyżej poziomu morza', size=6.8, fontweight='bold')

# header and footer of the main chart
txt(280, 8, 'wschód słońca: 04:36 CEST', NAVY, size=8.8)
txt(280, 21, 'zachód słońca: 20:22 CEST', NAVY, size=8.8)
txt(551, 8, "21°31'E, 53°44'N", NAVY, ha='center', size=8.8)
txt(551, 21, '(x=258,  y=362)', NAVY, ha='center', size=8.8)
txt(818, 8, 'wysokość (min, środek, max)', NAVY, ha='right', size=8.8)
txt(739, 21, '128 - 146 - 176 m', NAVY, ha='center', size=8.8)
txt(463, 38, 'pon, 12.05', ha='center', size=9)
txt(631, 38, 'wto, 13.05', ha='center', size=9)
txt(338, 50, 'CEST', ha='right', size=9)
txt(765, 50, 'CEST', size=9)
txt(332, 612, 'UTC', ha='right', size=9)
txt(765, 613, 'UTC', size=9)
txt(463, 625, '12.05', ha='center', size=9)
txt(631, 625, '13.05', ha='center', size=9)
txt(300, 648, 'meteo@icm.edu.pl', NAVY, size=9.4)
txt(806, 648, '© 2007-2025 ICM, Uniwersytet Warszawski', NAVY, ha='right', size=9.4)

# rotated axis captions
caps = [(289, 96, 'temperatura'), (303, 96, '(°C)'), (800, 96, '(°C)'), (813, 96, 'temperatura'),
        (289, 182, 'opad'), (303, 182, '(mm/h, kg/m²/h)'), (800, 182, '(%)'), (813, 186, 'wilgotność wzgl.'),
        (289, 270, 'ciśnienie'), (303, 270, '(hPa)'), (800, 270, '(mm Hg)'), (813, 270, 'ciśnienie'),
        (289, 356, 'wiatr'), (303, 356, '(m/s)'), (800, 356, '(km/h)'), (813, 356, 'wiatr'),
        (289, 480, 'pion. rozciągł. chm.'), (303, 475, '(km)'), (800, 475, '(km)'), (813, 477, 'widzialność'),
        (289, 572, 'zachmurzenie'), (303, 567, '(oktanty)'), (800, 562, '(frakcja)'), (813, 562, 'mgła')]
for xc, yc, s in caps:
    page.text(xc, yc, s, color=NAVY, rotation=90, ha='center', va='center', fontsize=8.6)
for dx in (0, 509):
    txt(289 + dx, 415, 'W', NAVY, ha='center', size=8.6)
    txt(299 + dx, 408, 'N', NAVY, ha='center', size=8.6)
    txt(299 + dx, 423, 'S', NAVY, ha='center', size=8.6)
    txt(307 + dx, 415, 'E', NAVY, ha='center', size=8.6)

page.set_xlim(0, W)
page.set_ylim(H, 0)
back.set_xlim(0, W)
back.set_ylim(H, 0)
fig.savefig('out.png', dpi=100)
